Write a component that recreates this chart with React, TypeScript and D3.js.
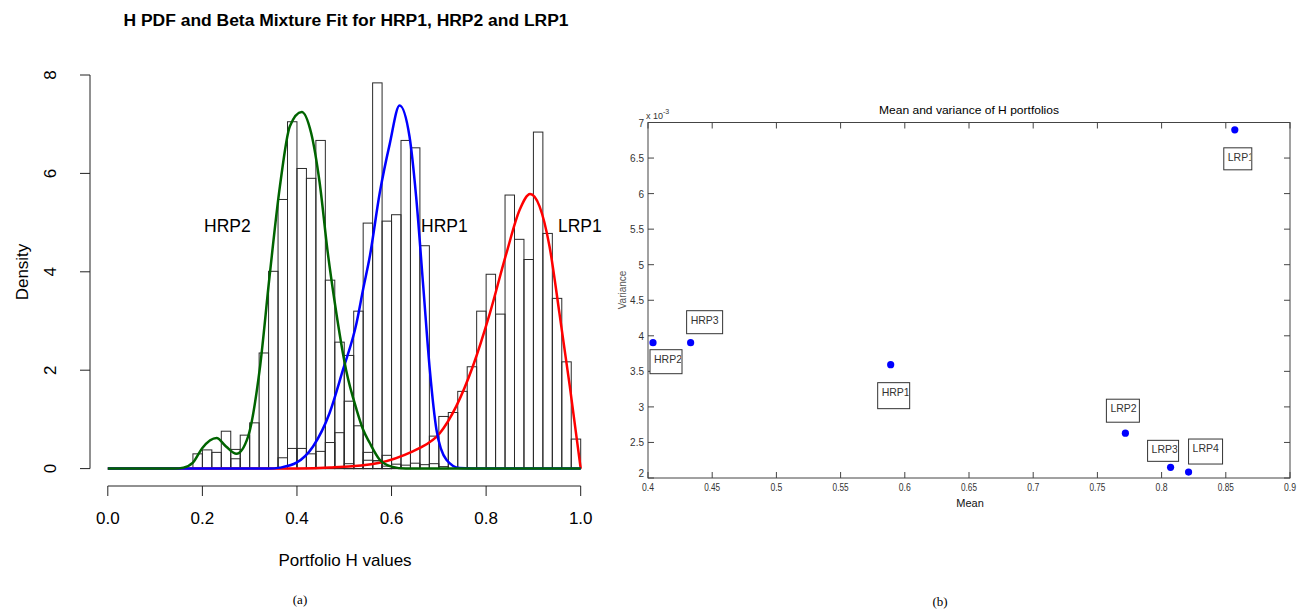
import * as d3 from "d3";

// ---- panel (a): overlaid histograms + beta mixture fits ----
const binStarts = [
  0.18, 0.2, 0.22, 0.24, 0.26, 0.28, 0.3, 0.32, 0.34, 0.36, 0.38, 0.4, 0.42, 0.44,
  0.46, 0.48, 0.5, 0.52, 0.54, 0.56, 0.58, 0.6, 0.62, 0.64, 0.66, 0.68, 0.7, 0.72,
  0.74, 0.76, 0.78, 0.8, 0.82, 0.84, 0.86, 0.88, 0.9, 0.92, 0.94, 0.96, 0.98,
];
const binWidth = 0.02;

const hrp2Density = [
  0.3, 0.38, 0.33, 0.76, 0.39, 0.68, 0.93, 2.35, 4.01, 5.47, 7.05, 6.1, 5.9, 6.67,
  3.83, 2.57, 1.37, 0.87, 0.33, 0.16, 0.05, 0, 0, 0, 0, 0, 0, 0,
  0, 0, 0, 0, 0, 0, 0, 0, 0, 0, 0, 0, 0,
];
const hrp1Density = [
  0, 0, 0, 0, 0.2, 0, 0, 0, 0, 0.22, 0.41, 0.41, 0.3, 0.35,
  0.53, 0.73, 2.3, 3.2, 4.99, 7.84, 5.03, 5.16, 6.67, 6.52, 4.53, 0.1, 0.04, 0,
  0, 0, 0, 0, 0, 0, 0, 0, 0, 0, 0, 0, 0,
];
const lrp1Density = [
  0, 0, 0, 0, 0, 0, 0, 0, 0, 0, 0, 0, 0, 0,
  0, 0, 0.1, 0.06, 0.17, 0.16, 0.27, 0.09, 0.07, 0.11, 0.08, 0.66, 1.06, 1.14,
  1.57, 2.07, 3.2, 3.95, 3.14, 5.56, 4.66, 4.25, 6.84, 4.78, 3.46, 2.17, 0.6,
];

// fitted densities
const hrp2Fit: [number, number][] = [
  [0, 0], [0.14, 0], [0.16, 0.02], [0.18, 0.12], [0.2, 0.42], [0.23, 0.62], [0.25, 0.45],
  [0.272, 0.3], [0.297, 0.66], [0.321, 2.0], [0.342, 3.9], [0.364, 5.74], [0.385, 6.96],
  [0.41, 7.25], [0.43, 6.82], [0.448, 5.81], [0.465, 4.4], [0.48, 3.37], [0.504, 2.0],
  [0.526, 1.2], [0.54, 0.79], [0.554, 0.52], [0.575, 0.18], [0.6, 0.04], [0.63, 0], [1, 0],
];
const hrp1Fit: [number, number][] = [
  [0, 0], [0.34, 0], [0.364, 0.02], [0.399, 0.12], [0.434, 0.45], [0.469, 1.13], [0.497, 2.0],
  [0.526, 2.96], [0.54, 3.65], [0.554, 4.31], [0.575, 5.6], [0.596, 6.59], [0.617, 7.38],
  [0.638, 6.75], [0.652, 5.53], [0.667, 3.71], [0.681, 2.0], [0.695, 0.79], [0.716, 0.18],
  [0.744, 0.01], [0.77, 0], [1, 0],
];
const lrp1Fit: [number, number][] = [
  [0, 0], [0.4, 0], [0.47, 0.02], [0.575, 0.12], [0.645, 0.35], [0.66, 0.42], [0.702, 0.72],
  [0.737, 1.27], [0.772, 2.08], [0.808, 3.16], [0.843, 4.38], [0.871, 5.26], [0.893, 5.58],
  [0.913, 5.33], [0.934, 4.52], [0.955, 3.16], [0.977, 1.67], [1.0, 0],
];

const hTicks = [0, 0.2, 0.4, 0.6, 0.8, 1.0];
const densityTicks = [0, 2, 4, 6, 8];

// ---- panel (b): mean / variance scatter ----
const portfolios = ["HRP1", "HRP2", "HRP3", "LRP1", "LRP2", "LRP3", "LRP4"];
const means = [0.589, 0.4039, 0.4332, 0.857, 0.7718, 0.807, 0.821];
const variances = [3.594, 3.903, 3.903, 6.897, 2.63, 2.15, 2.084]; // x 10^-3
const meanTicks = [0.4, 0.45, 0.5, 0.55, 0.6, 0.65, 0.7, 0.75, 0.8, 0.85, 0.9];
const varTicks = [2, 2.5, 3, 3.5, 4, 4.5, 5, 5.5, 6, 6.5, 7];

// label box offsets from each point, px: [dx, dy, w, h]
const labelBoxes: [number, number, number, number][] = [
  [-13, 18, 32, 26],
  [-3, 7, 32, 24],
  [-4, -32, 36, 23],
  [-11, 18, 28, 22],
  [-19, -34, 33, 23],
  [-23, -27, 31, 21],
  [0, -33, 34, 25],
];

const sans = "'Liberation Sans', Arial, Helvetica, sans-serif";

const App = () => {
  const x = d3.scaleLinear().domain([0, 1]).range([107.8, 580.7]);
  const y = d3.scaleLinear().domain([0, 8]).range([468.6, 75]);

  const fitLine = d3
    .line<[number, number]>()
    .x((d) => x(d[0]))
    .y((d) => y(d[1]))
    .curve(d3.curveMonotoneX);

  const series = [hrp2Density, hrp1Density, lrp1Density];

  const mx = d3.scaleLinear().domain([0.4, 0.9]).range([648, 1290]);
  const vy = d3.scaleLinear().domain([2, 7]).range([478, 122.5]);

  return (
    <div style={{ position: "absolute", left: 0, top: 0 }}>
      <svg width={1303} height={611} style={{ display: "block", background: "#fff" }}>
        {/* ---------- (a) ---------- */}
        <text
          x={346} y={26} textAnchor="middle" fontFamily={sans} fontWeight="bold"
          fontSize={16} textLength={445} lengthAdjust="spacingAndGlyphs"
        >
          H PDF and Beta Mixture Fit for HRP1, HRP2 and LRP1
        </text>

        {series.map((s, si) =>
          s.map((d, i) =>
            d > 0 ? (
              <rect
                key={`b${si}-${i}`}
                x={x(binStarts[i])}
                y={y(d)}
                width={x(binStarts[i] + binWidth) - x(binStarts[i])}
                height={y(0) - y(d)}
                fill="none"
                stroke="#2a2a2a"
                strokeWidth={1}
              />
            ) : null
          )
        )}

        <path d={fitLine(lrp1Fit) ?? ""} fill="none" stroke="#ff0000" strokeWidth={2.5} />
        <path d={fitLine(hrp1Fit) ?? ""} fill="none" stroke="#0000ff" strokeWidth={2.5} />
        <path d={fitLine(hrp2Fit) ?? ""} fill="none" stroke="#006400" strokeWidth={2.5} />

        <text x={204} y={232} fontFamily={sans} fontSize={17.5}>HRP2</text>
        <text x={421} y={232} fontFamily={sans} fontSize={17.5}>HRP1</text>
        <text x={558} y={232} fontFamily={sans} fontSize={17.5}>LRP1</text>

        {/* y axis */}
        <line x1={90} x2={90} y1={y(0)} y2={y(8)} stroke="#222" />
        {densityTicks.map((t) => (
          <g key={`yt${t}`}>
            <line x1={80} x2={90} y1={y(t)} y2={y(t)} stroke="#222" />
            <text
              transform={`translate(56,${y(t)}) rotate(-90)`}
              textAnchor="middle" fontFamily={sans} fontSize={17}
            >
              {t}
            </text>
          </g>
        ))}
        <text
          transform="translate(28,272) rotate(-90)"
          textAnchor="middle" fontFamily={sans} fontSize={17}
        >
          Density
        </text>

        {/* x axis */}
        <line x1={x(0)} x2={x(1)} y1={486} y2={486} stroke="#222" />
        {hTicks.map((t) => (
          <g key={`xt${t}`}>
            <line x1={x(t)} x2={x(t)} y1={486} y2={496} stroke="#222" />
            <text x={x(t)} y={524} textAnchor="middle" fontFamily={sans} fontSize={17}>
              {t.toFixed(1)}
            </text>
          </g>
        ))}
        <text x={345} y={566} textAnchor="middle" fontFamily={sans} fontSize={17}>
          Portfolio H values
        </text>
        <text x={300} y={604} textAnchor="middle" fontFamily="'Liberation Serif', serif" fontSize={13}>
          (a)
        </text>

        {/* ---------- (b) ---------- */}
        <text
          x={969} y={114} textAnchor="middle" fontFamily={sans} fontSize={11}
          textLength={180} lengthAdjust="spacingAndGlyphs"
        >
          Mean and variance of H portfolios
        </text>
        <text x={646} y={119} fontFamily={sans} fontSize={9} fill="#333">
          x 10
          <tspan dy={-5} fontSize={7}>-3</tspan>
        </text>

        <rect
          x={mx(0.4)} y={vy(7)} width={mx(0.9) - mx(0.4)} height={vy(2) - vy(7)}
          fill="none" stroke="#444" strokeWidth={1}
        />
        {meanTicks.map((t) => (
          <g key={`mt${t}`}>
            <line x1={mx(t)} x2={mx(t)} y1={vy(2)} y2={vy(2) - 6} stroke="#444" />
            <line x1={mx(t)} x2={mx(t)} y1={vy(7)} y2={vy(7) + 6} stroke="#444" />
            <text
              x={mx(t)} y={491} textAnchor="middle" fontFamily={sans} fontSize={10}
              fill="#333" textLength={String(t).length > 3 ? 16 : String(t).length > 1 ? 12 : 6}
              lengthAdjust="spacingAndGlyphs"
            >
              {t}
            </text>
          </g>
        ))}
        {varTicks.map((t) => (
          <g key={`vt${t}`}>
            <line x1={mx(0.4)} x2={mx(0.4) + 6} y1={vy(t)} y2={vy(t)} stroke="#444" />
            <line x1={mx(0.9)} x2={mx(0.9) - 6} y1={vy(t)} y2={vy(t)} stroke="#444" />
            <text
              x={644} y={vy(t) + (t === 2 ? -1 : 4)} textAnchor="end" fontFamily={sans}
              fontSize={10} fill="#333"
            >
              {t}
            </text>
          </g>
        ))}
        <text x={970} y={507} textAnchor="middle" fontFamily={sans} fontSize={11} fill="#111">
          Mean
        </text>
        <text
          transform="translate(626,290) rotate(-90)"
          textAnchor="middle" fontFamily={sans} fontSize={10} fill="#555"
        >
          Variance
        </text>

        <defs>
          {portfolios.map((p, i) => {
            const [dx, dy, w, h] = labelBoxes[i];
            return (
              <clipPath key={`cp${p}`} id={`clip-${p}`}>
                <rect x={mx(means[i]) + dx} y={vy(variances[i]) + dy} width={w - 1} height={h} />
              </clipPath>
            );
          })}
        </defs>

        {portfolios.map((p, i) => {
          const px = mx(means[i]);
          const py = vy(variances[i]);
          const [dx, dy, w, h] = labelBoxes[i];
          return (
            <g key={`pt${p}`}>
              <circle cx={px} cy={py} r={3.6} fill="#0000ff" />
              <rect
                x={px + dx} y={py + dy} width={w} height={h}
                fill="#fff" stroke="#333" strokeWidth={1}
              />
              <text
                x={px + dx + 4} y={py + dy + 13} fontFamily={sans} fontSize={10.5}
                fill="#333" clipPath={`url(#clip-${p})`}
              >
                {p}
              </text>
            </g>
          );
        })}

        <text x={940} y={606} textAnchor="middle" fontFamily="'Liberation Serif', serif" fontSize={13}>
          (b)
        </text>
      </svg>
    </div>
  );
};

export default App;
